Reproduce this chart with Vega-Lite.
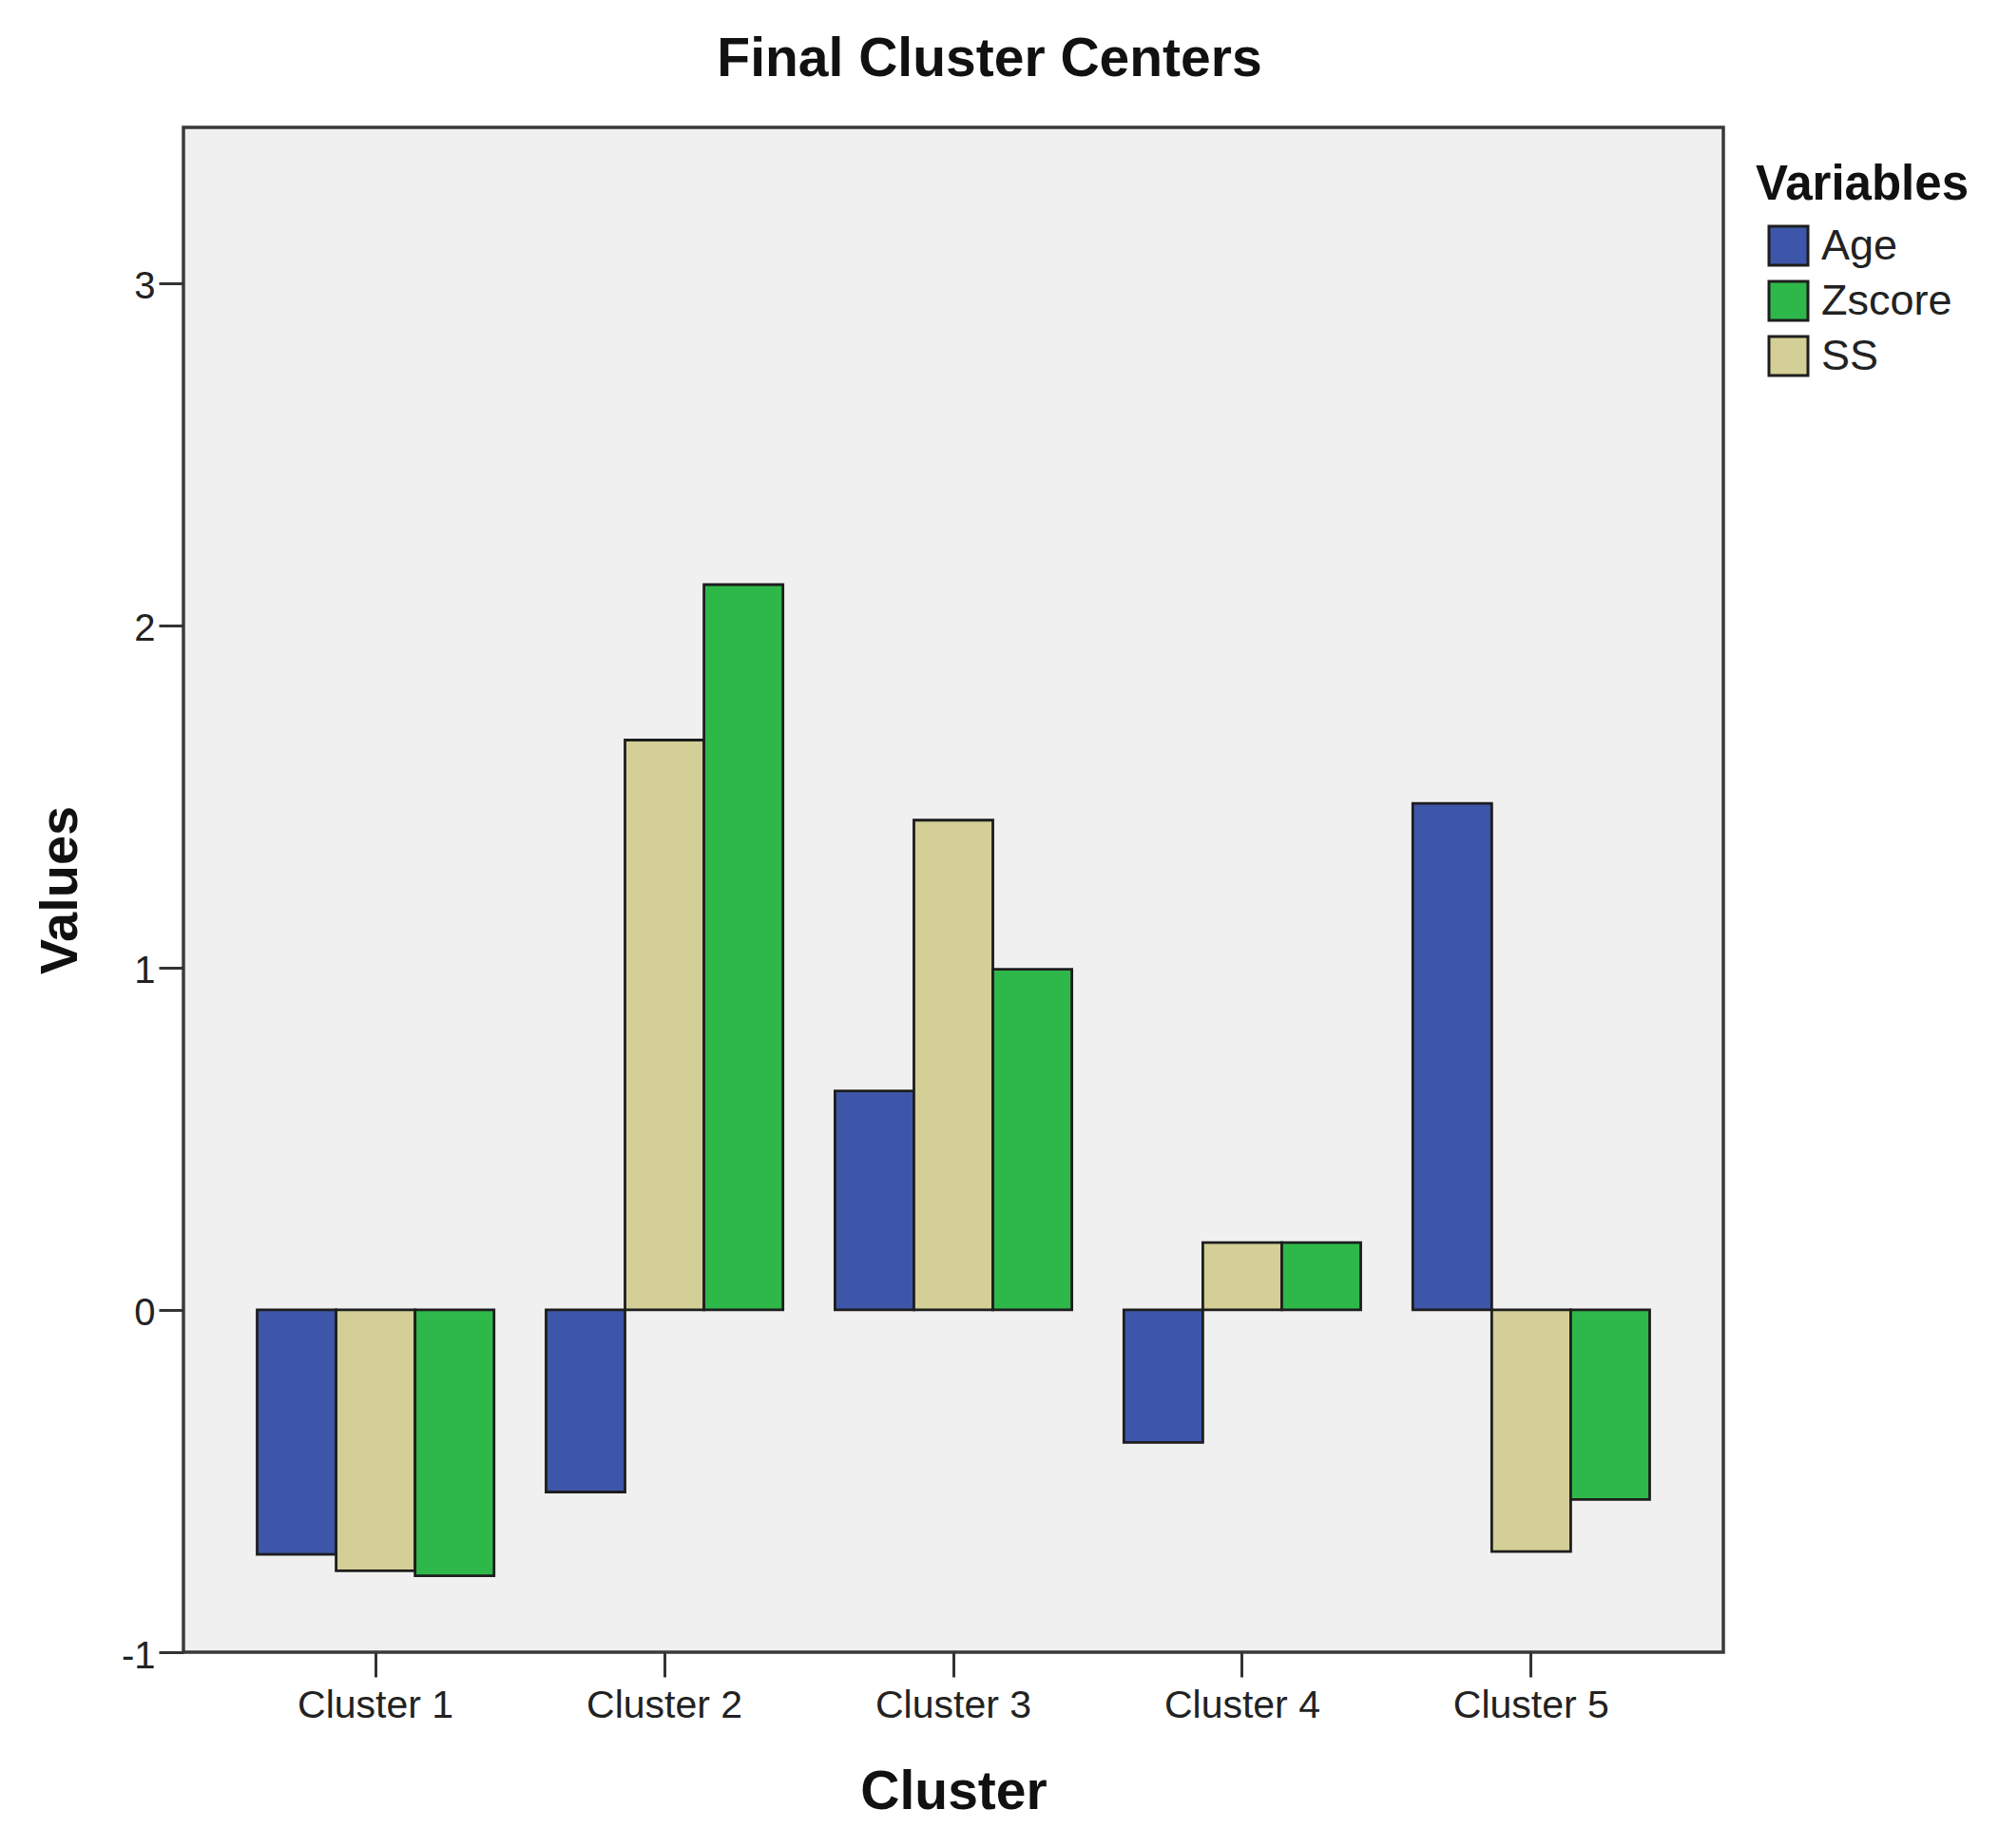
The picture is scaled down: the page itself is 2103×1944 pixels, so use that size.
{
  "$schema": "https://vega.github.io/schema/vega-lite/v6.json",
  "autosize": "none",
  "width": 1620,
  "height": 1604,
  "padding": {"left": 193, "top": 134, "right": 290, "bottom": 206},
  "background": "white",
  "title": {
    "text": "Final Cluster Centers",
    "fontSize": 57,
    "font": "Liberation Sans",
    "fontWeight": "bold",
    "color": "#111",
    "anchor": "middle",
    "frame": "group",
    "baseline": "alphabetic",
    "offset": 52,
    "dx": 38,
    "dy": 55
  },
  "data": {
    "values": [
      {"cluster": "Cluster 1", "variable": "Age", "value": -0.714},
      {"cluster": "Cluster 1", "variable": "SS", "value": -0.762},
      {"cluster": "Cluster 1", "variable": "Zscore", "value": -0.777},
      {"cluster": "Cluster 2", "variable": "Age", "value": -0.532},
      {"cluster": "Cluster 2", "variable": "SS", "value": 1.665},
      {"cluster": "Cluster 2", "variable": "Zscore", "value": 2.119},
      {"cluster": "Cluster 3", "variable": "Age", "value": 0.64},
      {"cluster": "Cluster 3", "variable": "SS", "value": 1.431},
      {"cluster": "Cluster 3", "variable": "Zscore", "value": 0.995},
      {"cluster": "Cluster 4", "variable": "Age", "value": -0.387},
      {"cluster": "Cluster 4", "variable": "SS", "value": 0.197},
      {"cluster": "Cluster 4", "variable": "Zscore", "value": 0.197},
      {"cluster": "Cluster 5", "variable": "Age", "value": 1.48},
      {"cluster": "Cluster 5", "variable": "SS", "value": -0.706},
      {"cluster": "Cluster 5", "variable": "Zscore", "value": -0.554}
    ]
  },
  "mark": {"type": "bar", "stroke": "#1e1e1e", "strokeWidth": 2.8},
  "encoding": {
    "x": {
      "field": "cluster",
      "type": "nominal",
      "scale": {"paddingInner": 0.18, "paddingOuter": 0.255},
      "axis": {
        "title": "Cluster",
        "titleFontSize": 57,
        "titleFont": "Liberation Sans",
        "titleFontWeight": "bold",
        "titleColor": "#111",
        "titleBaseline": "alphabetic",
        "titleX": 810,
        "titleY": 164,
        "labelAngle": 0,
        "labelFontSize": 41,
        "labelFont": "Liberation Sans",
        "labelColor": "#222",
        "labelPadding": 10,
        "tickSize": 26,
        "tickWidth": 3,
        "tickColor": "#333",
        "domain": false
      }
    },
    "xOffset": {
      "field": "variable",
      "type": "nominal",
      "scale": {"domain": ["Age", "SS", "Zscore"], "paddingInner": 0, "paddingOuter": 0}
    },
    "y": {
      "field": "value",
      "type": "quantitative",
      "scale": {"domain": [-1, 3.455], "nice": false, "zero": false},
      "axis": {
        "title": "Values",
        "titleFontSize": 56,
        "titleFont": "Liberation Sans",
        "titleFontWeight": "bold",
        "titleColor": "#111",
        "titleBaseline": "alphabetic",
        "titleX": -113,
        "titleY": 802,
        "values": [-1, 0, 1, 2, 3],
        "labelExpr": "datum.value < 0 ? '-' + abs(datum.value) : '' + datum.value",
        "grid": false,
        "labelFontSize": 40,
        "labelFont": "Liberation Sans",
        "labelColor": "#222",
        "labelPadding": 4,
        "labelOffset": 4,
        "tickSize": 26,
        "tickWidth": 3,
        "tickColor": "#333",
        "domain": false
      }
    },
    "color": {
      "field": "variable",
      "type": "nominal",
      "scale": {"domain": ["Age", "Zscore", "SS"], "range": ["#3D56A9", "#2FB84A", "#D3CF97"]},
      "legend": {
        "title": "Variables",
        "orient": "none",
        "legendX": 1654,
        "legendY": 36,
        "padding": 0,
        "titleFontSize": 51,
        "titleFont": "Liberation Sans",
        "titleFontWeight": "bold",
        "titleColor": "#111",
        "titlePadding": 15,
        "titleLimit": 500,
        "symbolType": "square",
        "symbolSize": 1681,
        "symbolStrokeColor": "#1e1e1e",
        "symbolStrokeWidth": 3,
        "symbolOffset": 12,
        "labelFontSize": 45,
        "labelFont": "Liberation Sans",
        "labelColor": "#222",
        "labelOffset": 12,
        "labelLimit": 400,
        "rowPadding": 5
      }
    }
  },
  "config": {
    "view": {"fill": "#F0F0F0", "stroke": "#3a3a3a", "strokeWidth": 3.5}
  }
}
